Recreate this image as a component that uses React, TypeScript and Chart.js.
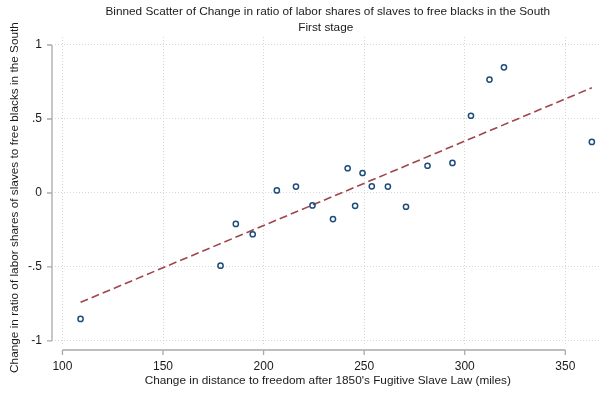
import React, { useEffect, useRef } from "react";
import { Chart, registerables } from "chart.js";
Chart.register(...registerables);

const TITLE = "Binned Scatter of Change in ratio of labor shares of slaves to free blacks in the South";
const SUBTITLE = "First stage";
const X_TITLE = "Change in distance to freedom after 1850's Fugitive Slave Law (miles)";
const Y_TITLE = "Change in ratio of labor shares of slaves to free blacks in the South";

const binX = [109.0, 178.6, 186.2, 194.6, 206.6, 216.1, 224.3, 234.5, 241.8, 245.5, 249.2, 253.8, 261.8, 270.8, 281.5, 293.9, 303.1, 312.3, 319.5, 363.2];
const binY = [-0.851, -0.491, -0.209, -0.279, 0.017, 0.043, -0.084, -0.176, 0.167, -0.087, 0.135, 0.045, 0.043, -0.093, 0.184, 0.203, 0.522, 0.766, 0.849, 0.345];

const fitX = [109.0, 363.2];
const fitY = [-0.739, 0.711];

const xTicks = [100, 150, 200, 250, 300, 350];
const yTicks = [-1, -0.5, 0, 0.5, 1];
const yTickLabels = ["-1", "-.5", "0", ".5", "1"];

const FONT = "'Liberation Sans', Arial, Helvetica, sans-serif";
const TEXT = "#1a1a1a";
const AXIS = "#a9a9a9";

const decorPlugin = {
  id: "decor",
  afterDraw(chart: any) {
    const { ctx, chartArea: a } = chart;
    const xs = chart.scales.x;
    const ys = chart.scales.y;
    ctx.save();
    ctx.strokeStyle = AXIS;
    ctx.lineWidth = 1.3;
    const ax = a.left - 3;
    const ay = a.bottom + 4;
    ctx.beginPath();
    ctx.moveTo(ax, ys.getPixelForValue(yTicks[yTicks.length - 1]));
    ctx.lineTo(ax, ys.getPixelForValue(yTicks[0]));
    for (const v of yTicks) {
      const p = ys.getPixelForValue(v);
      ctx.moveTo(ax, p);
      ctx.lineTo(ax - 5, p);
    }
    ctx.moveTo(xs.getPixelForValue(xTicks[0]), ay);
    ctx.lineTo(xs.getPixelForValue(xTicks[xTicks.length - 1]), ay);
    for (const v of xTicks) {
      const p = xs.getPixelForValue(v);
      ctx.moveTo(p, ay);
      ctx.lineTo(p, ay + 5);
    }
    ctx.stroke();

    ctx.fillStyle = TEXT;
    ctx.textAlign = "center";
    ctx.textBaseline = "middle";
    const cx = (a.left + a.right) / 2;
    ctx.font = `11.8px ${FONT}`;
    ctx.fillText(TITLE, cx, 11.5);
    ctx.fillText(SUBTITLE, cx - 2, 28);
    ctx.font = `11.8px ${FONT}`;
    ctx.fillText(X_TITLE, cx, 381);
    ctx.translate(14.5, (a.top + a.bottom) / 2 + 6);
    ctx.rotate(-Math.PI / 2);
    ctx.fillText(Y_TITLE, 0, 0);
    ctx.restore();
  },
};

export default function App() {
  const ref = useRef<HTMLCanvasElement | null>(null);
  useEffect(() => {
    if (!ref.current) return;
    const chart = new Chart(ref.current, {
      type: "scatter",
      data: {
        datasets: [
          {
            type: "line",
            data: fitX.map((x, i) => ({ x, y: fitY[i] })),
            borderColor: "#a0464a",
            borderWidth: 1.6,
            borderDash: [8, 4],
            pointRadius: 0,
            fill: false,
            order: 2,
          } as any,
          {
            type: "scatter",
            data: binX.map((x, i) => ({ x, y: binY[i] })),
            pointStyle: "circle",
            pointRadius: 2.6,
            pointBorderWidth: 1.5,
            borderColor: "#1f4d7a",
            backgroundColor: "rgba(255,255,255,0)",
            pointBackgroundColor: "rgba(255,255,255,0)",
            pointBorderColor: "#1f4d7a",
            order: 1,
          } as any,
        ],
      },
      options: {
        animation: false,
        responsive: false,
        maintainAspectRatio: false,
        layout: { padding: { top: 37, right: 1, left: 0, bottom: 0 } },
        plugins: { legend: { display: false }, tooltip: { enabled: false }, title: { display: false } },
        scales: {
          x: {
            type: "linear",
            min: 96.3,
            max: 367.5,
            afterBuildTicks: (s: any) => {
              s.ticks = xTicks.map((v) => ({ value: v }));
            },
            afterFit: (s: any) => {
              s.height = 47;
            },
            grid: { color: "#d6d6d6", lineWidth: 1, drawTicks: false },
            border: { display: false, dash: [1, 2] },
            ticks: { padding: 13, color: TEXT, font: { family: FONT, size: 12 }, maxRotation: 0 },
          },
          y: {
            type: "linear",
            min: -1.034,
            max: 1.054,
            afterBuildTicks: (s: any) => {
              s.ticks = yTicks.map((v) => ({ value: v }));
            },
            afterFit: (s: any) => {
              s.width = 55;
            },
            grid: { color: "#d6d6d6", lineWidth: 1, drawTicks: false },
            border: { display: false, dash: [1, 2] },
            ticks: {
              padding: 13,
              color: TEXT,
              font: { family: FONT, size: 12 },
              callback: (v: any) => {
                const i = yTicks.indexOf(Number(v));
                return i >= 0 ? yTickLabels[i] : "";
              },
            },
          },
        },
      },
      plugins: [decorPlugin],
    });
    return () => chart.destroy();
  }, []);
  return (
    <div style={{ position: "absolute", left: 0, top: 0, width: 606, height: 393, background: "#fff" }}>
      <canvas ref={ref} width={606} height={393} style={{ width: 606, height: 393 }} />
    </div>
  );
}
